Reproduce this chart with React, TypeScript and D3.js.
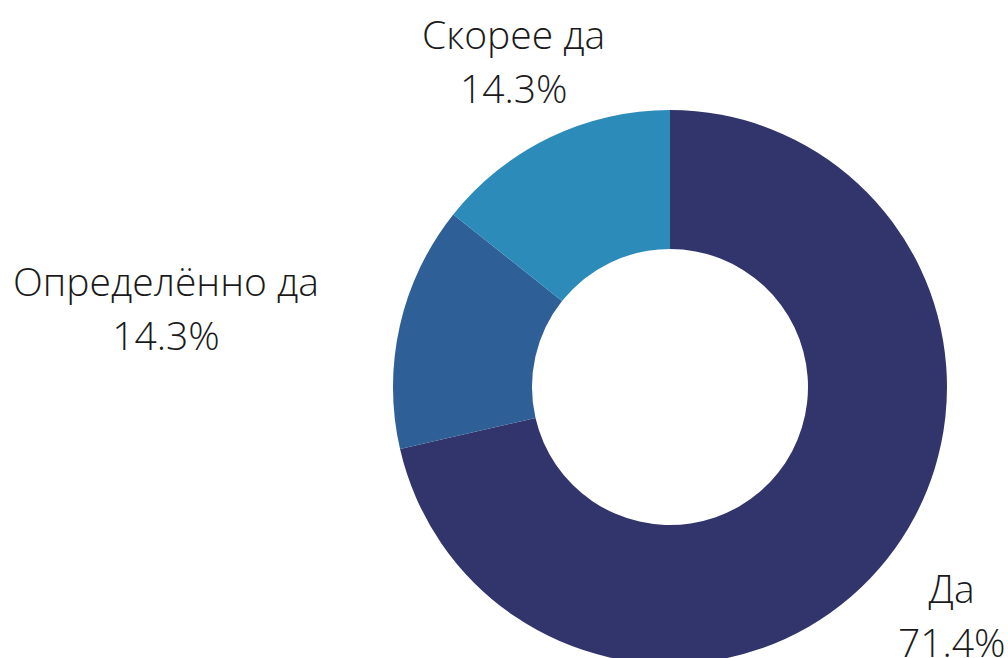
import React, { useLayoutEffect, useRef, useState } from "react";
import { pie, arc } from "d3";

const categories = ["Да", "Определённо да", "Скорее да"];
const values = [71.4, 14.3, 14.3];
const colors = ["#31356c", "#2e5f96", "#2d8bba"];

export default function App() {
  const width = 1008;
  const height = 658;
  const cx = 670;
  const cy = 387;
  const outerR = 277;
  const innerR = 138;
  const labelR = 360;
  const fontSize = 39;
  const lineGap = 54;

  const textRefs = useRef<(SVGTextElement | null)[]>([]);
  const [blockW, setBlockW] = useState<number[]>(categories.map(() => 0));

  useLayoutEffect(() => {
    const w = textRefs.current.map((t) => {
      if (!t) return 0;
      const spans = Array.from(t.querySelectorAll("tspan")) as SVGTSpanElement[];
      return Math.max(...spans.map((s) => s.getComputedTextLength()));
    });
    setBlockW(w);
  }, []);

  const data = categories.map((name, i) => ({ name, value: values[i], color: colors[i] }));
  const arcs = pie<any>().sort(null).value((d) => d.value)(data);
  const arcGen = arc<any>().innerRadius(innerR).outerRadius(outerR);
  const labelArc = arc<any>().innerRadius(labelR).outerRadius(labelR);

  return (
    <svg
      width={width}
      height={height}
      style={{ position: "absolute", left: 0, top: 0, background: "#fff" }}
    >
      <g transform={`translate(${cx},${cy})`}>
        {arcs.map((a, i) => (
          <path key={i} d={arcGen(a) as string} fill={a.data.color} />
        ))}
        {arcs.map((a, i) => {
          const [lx, ly] = labelArc.centroid(a);
          const mid = (a.startAngle + a.endAngle) / 2;
          const s = Math.sin(mid);
          // side labels hang off their near edge, top/bottom ones are centered on the point
          const shift = Math.abs(s) > 0.9 ? Math.sign(s) * blockW[i] / 2 : 0;
          const x = lx + shift;
          const yc = ly + 4 - 4 * Math.cos(mid);
          return (
            <text
              key={"l" + i}
              ref={(el) => {
                textRefs.current[i] = el;
              }}
              textAnchor="middle"
              fontFamily="'Open Sans', sans-serif"
              fontWeight={300}
              fontSize={fontSize}
              fill="#1a1a1a"
            >
              <tspan x={x} y={yc - 14.5}>
                {a.data.name}
              </tspan>
              <tspan x={x} y={yc - 14.5 + lineGap}>
                {a.data.value.toFixed(1)}%
              </tspan>
            </text>
          );
        })}
      </g>
    </svg>
  );
}
